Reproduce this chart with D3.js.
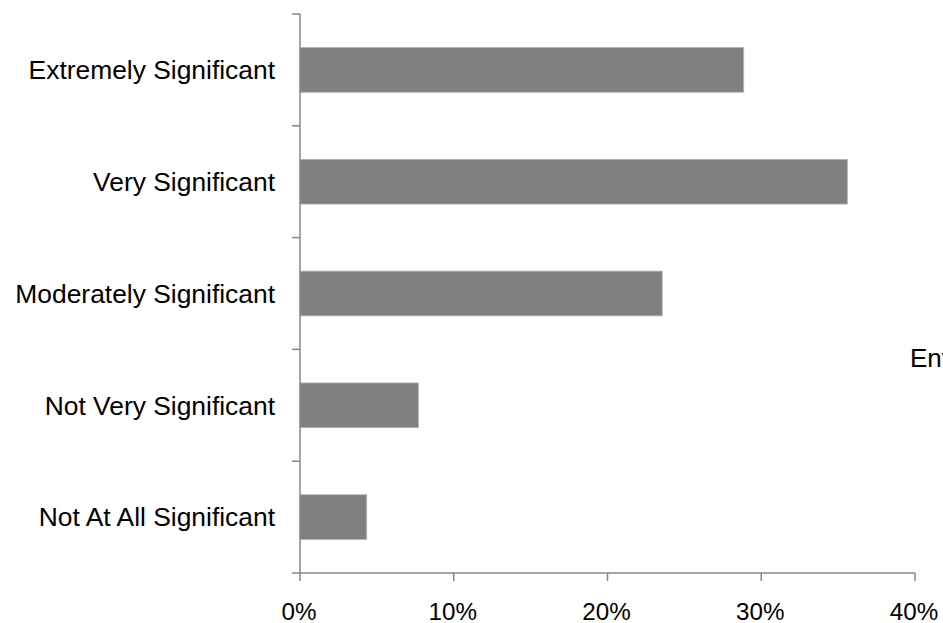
<!DOCTYPE html>
<html>
<head>
<meta charset="utf-8">
<script src="https://cdn.jsdelivr.net/npm/d3@7"></script>
<style>
  html, body { margin: 0; padding: 0; background: #fff; overflow: hidden; }
  svg { display: block; }
  text { font-family: "Liberation Sans", Arial, sans-serif; fill: #000; }
</style>
</head>
<body>
<svg id="chart" width="943" height="623"></svg>
<script>
const categories = ["Extremely Significant", "Very Significant", "Moderately Significant", "Not Very Significant", "Not At All Significant"];
const values = [28.86, 35.6, 23.56, 7.7, 4.34];
const xTicks = [0, 10, 20, 30, 40];
const legendLabel = "Environmental";

(function () {
const svg = d3.select("#chart");
const mLeft = 300, mRight = 915, mTop = 14, mBottom = 573;
const axisColor = "#878787";

const x = d3.scaleLinear().domain([0, 40]).range([mLeft, mRight]);
const y = d3.scaleBand().domain(categories).range([mTop, mBottom]).padding(0);
const bw = y.bandwidth();

// bars
svg.append("g").selectAll("rect")
  .data(categories)
  .join("rect")
  .attr("x", x(0))
  .attr("y", d => y(d) + bw * 0.3)
  .attr("width", (d, i) => x(values[i]) - x(0))
  .attr("height", bw * 0.4)
  .attr("fill", "#808080")
  .attr("stroke", "#b4b4b4")
  .attr("stroke-width", 0.8);

// y axis line and ticks at band boundaries
const gy = svg.append("g");
gy.append("line")
  .attr("x1", mLeft).attr("x2", mLeft)
  .attr("y1", mTop).attr("y2", mBottom)
  .attr("stroke", axisColor).attr("stroke-width", 1.5);
const yBounds = categories.map(c => y(c)).concat([mBottom]);
gy.selectAll("line.tick").data(yBounds).join("line")
  .attr("class", "tick")
  .attr("x1", mLeft - 8).attr("x2", mLeft)
  .attr("y1", d => d).attr("y2", d => d)
  .attr("stroke", axisColor).attr("stroke-width", 1.5);
gy.selectAll("text").data(categories).join("text")
  .attr("x", 275)
  .attr("y", d => y(d) + bw / 2 + 9.3)
  .attr("text-anchor", "end")
  .style("font-size", "26.4px")
  .text(d => d);

// x axis
const gx = svg.append("g");
gx.append("line")
  .attr("x1", mLeft).attr("x2", mRight)
  .attr("y1", mBottom).attr("y2", mBottom)
  .attr("stroke", axisColor).attr("stroke-width", 1.5);
gx.selectAll("line.tick").data(xTicks).join("line")
  .attr("class", "tick")
  .attr("x1", d => x(d)).attr("x2", d => x(d))
  .attr("y1", mBottom).attr("y2", mBottom + 8)
  .attr("stroke", axisColor).attr("stroke-width", 1.5);
gx.selectAll("text").data(xTicks).join("text")
  .attr("x", d => x(d) - 1)
  .attr("y", 620)
  .attr("text-anchor", "middle")
  .style("font-size", "24.2px")
  .text(d => d + "%");

// legend (cut off at right edge)
svg.append("text")
  .attr("x", 910)
  .attr("y", 367)
  .style("font-size", "26px")
  .text(legendLabel);
})();
</script>
</body>
</html>
